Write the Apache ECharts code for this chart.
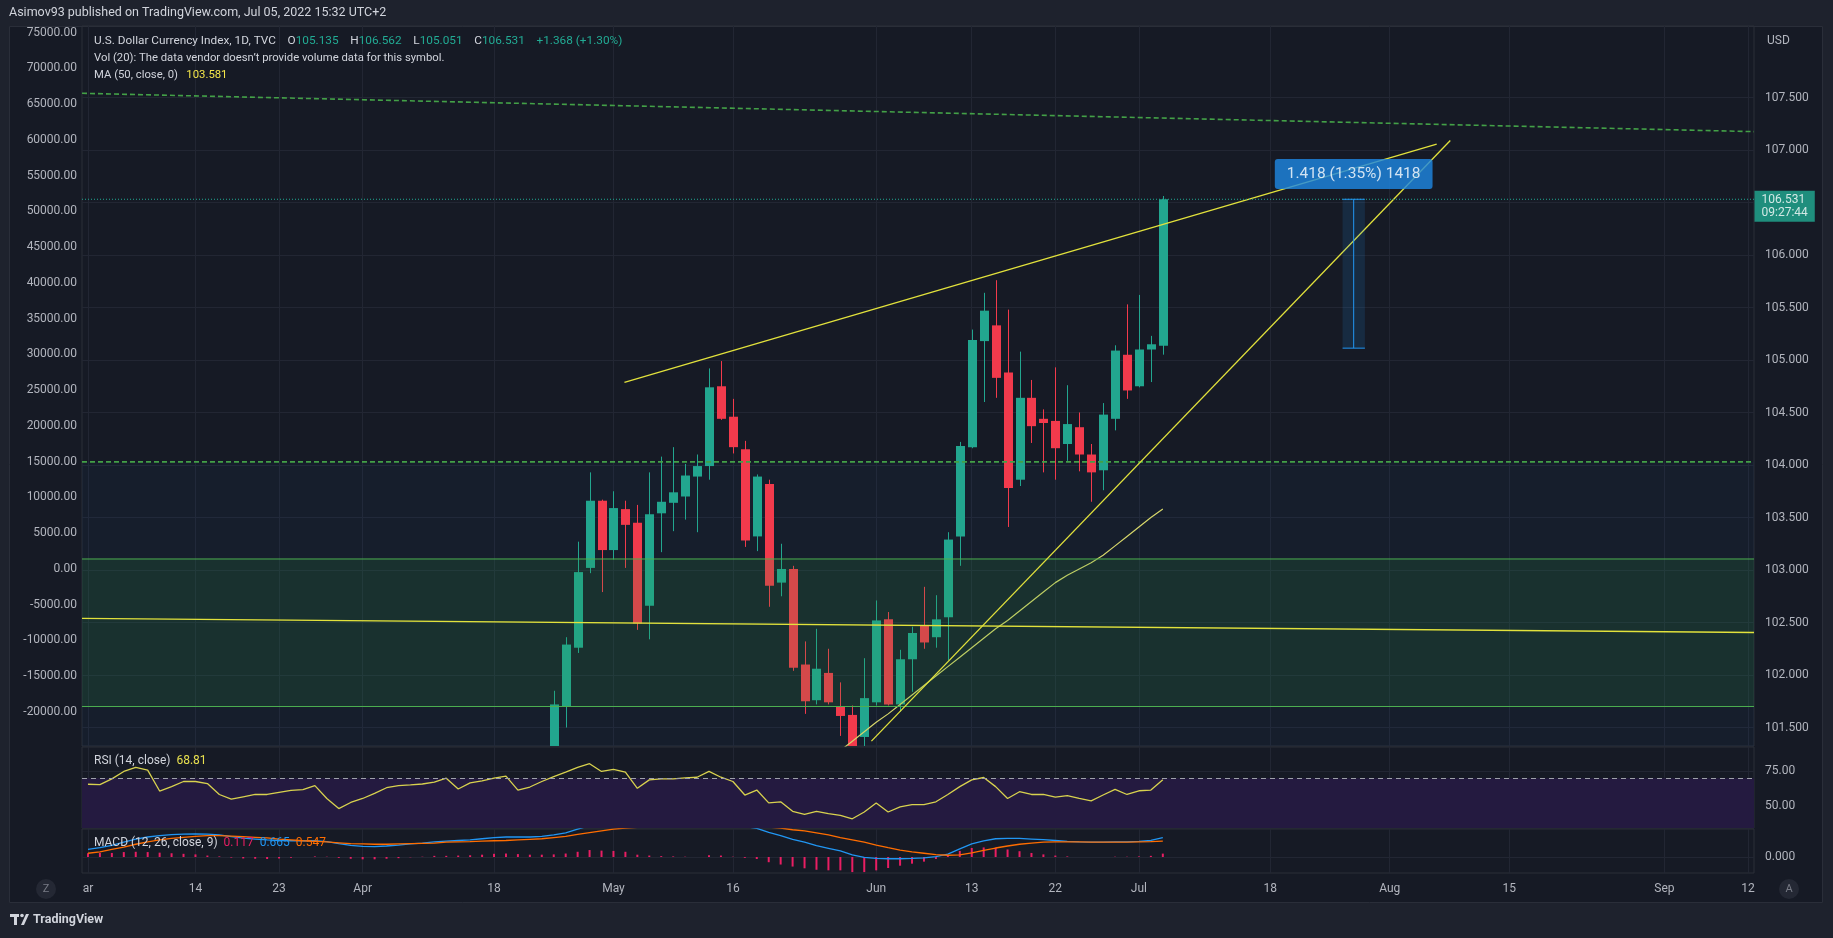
<!DOCTYPE html>
<html>
<head>
<meta charset="utf-8">
<title>U.S. Dollar Currency Index</title>
<script src="https://cdn.jsdelivr.net/npm/echarts@6.0.0/dist/echarts.min.js"></script>
<style>
html,body{margin:0;padding:0;background:#1e222d;overflow:hidden;}
#chart{width:1833px;height:938px;}
</style>
</head>
<body>
<div id="chart"></div>
<script>
// ================= DATA =================
const rangeStart = '2022-03-01';
const rangeEnd = '2022-09-12';

const candleDates = [
  '2022-04-25','2022-04-26','2022-04-27','2022-04-28','2022-04-29',
  '2022-05-02','2022-05-03','2022-05-04','2022-05-05','2022-05-06',
  '2022-05-09','2022-05-10','2022-05-11','2022-05-12','2022-05-13',
  '2022-05-16','2022-05-17','2022-05-18','2022-05-19','2022-05-20',
  '2022-05-23','2022-05-24','2022-05-25','2022-05-26','2022-05-27',
  '2022-05-30','2022-05-31','2022-06-01','2022-06-02','2022-06-03',
  '2022-06-06','2022-06-07','2022-06-08','2022-06-09','2022-06-10',
  '2022-06-13','2022-06-14','2022-06-15','2022-06-16','2022-06-17',
  '2022-06-20','2022-06-21','2022-06-22','2022-06-23','2022-06-24',
  '2022-06-27','2022-06-28','2022-06-29','2022-06-30','2022-07-01',
  '2022-07-04','2022-07-05'
];
// [open, high, low, close]
const candleOHLC = [
  [101.05,101.85,100.98,101.72],[101.70,102.36,101.50,102.29],[102.26,103.27,102.21,102.98],[103.02,103.93,102.97,103.66],[103.66,103.67,102.79,103.19],
  [103.19,103.75,103.10,103.59],[103.58,103.66,103.02,103.43],[103.45,103.62,102.43,102.49],[102.66,103.93,102.34,103.53],[103.54,104.08,103.17,103.65],
  [103.64,104.17,103.37,103.74],[103.70,104.01,103.48,103.90],[103.89,104.10,103.36,103.99],[103.99,104.92,103.86,104.74],[104.75,104.99,104.43,104.44],
  [104.46,104.63,104.11,104.17],[104.15,104.23,103.22,103.28],[103.32,103.91,103.18,103.89],[103.82,103.86,102.65,102.85],[102.88,103.25,102.75,103.01],
  [103.01,103.04,102.04,102.07],[102.10,102.32,101.63,101.75],[101.76,102.44,101.72,102.06],[102.02,102.25,101.72,101.74],[101.70,101.93,101.42,101.61],
  [101.62,101.71,101.22,101.30],[101.41,102.16,101.30,101.78],[101.74,102.71,101.71,102.52],[102.53,102.60,101.71,101.72],[101.72,102.24,101.65,102.15],
  [102.15,102.46,101.84,102.40],[102.47,102.84,102.25,102.31],[102.36,102.76,102.26,102.53],[102.55,103.36,102.14,103.29],[103.32,104.22,103.04,104.18],
  [104.17,105.29,104.16,105.19],[105.18,105.64,104.60,105.47],[105.33,105.76,104.64,104.83],[104.88,105.48,103.41,103.78],[103.86,105.08,103.80,104.64],
  [104.64,104.81,104.21,104.37],[104.44,104.53,103.93,104.40],[104.42,104.93,103.86,104.16],[104.20,104.76,104.04,104.39],[104.36,104.50,103.94,104.10],
  [104.10,104.20,103.65,103.93],[103.95,104.59,103.76,104.48],[104.44,105.14,104.33,105.09],[105.05,105.53,104.63,104.71],[104.75,105.62,104.74,105.10],
  [105.10,105.23,104.79,105.15],[105.135,106.562,105.051,106.531]
];

const indicatorStart = '2022-03-01';
const rsi14 = [
  65.6,65.3,69.5,74.9,77.8,75.9,60.7,63.9,67.6,67.6,
  66.1,58.2,54.8,56.5,58.2,58.2,59.7,61.2,61.7,64.6,
  55.3,48.0,52.4,55.3,59.0,63.1,64.6,65.1,65.8,67.1,
  70.0,62.2,66.6,68.0,70.0,71.5,61.4,63.6,67.6,71.2,
  74.4,77.8,80.5,74.9,76.4,74.4,62.7,68.8,69.5,69.5,
  70.2,70.7,74.9,70.7,67.6,57.8,61.4,52.1,52.9,46.0,
  43.8,46.0,44.3,43.1,40.6,45.5,52.1,45.5,49.2,50.9,
  50.9,52.9,58.2,63.9,68.8,70.5,63.9,55.3,60.2,58.2,
  58.2,56.3,57.3,55.3,53.6,57.8,61.9,58.2,60.9,61.4,
  68.81
];
const macdLine = [
  0.26,0.32,0.40,0.51,0.62,0.69,0.74,0.77,0.79,0.80,
  0.79,0.76,0.70,0.65,0.62,0.59,0.57,0.56,0.56,0.56,
  0.53,0.46,0.40,0.37,0.36,0.38,0.41,0.45,0.48,0.52,
  0.55,0.57,0.59,0.63,0.67,0.69,0.69,0.69,0.71,0.76,
  0.83,0.96,1.08,1.12,1.17,1.18,1.10,1.08,1.07,1.06,
  1.06,1.05,1.12,1.12,1.09,1.05,0.99,0.85,0.74,0.61,
  0.51,0.39,0.30,0.21,0.07,-0.01,-0.05,-0.06,-0.06,-0.05,
  -0.03,0.01,0.10,0.28,0.45,0.56,0.63,0.64,0.64,0.62,
  0.60,0.57,0.54,0.52,0.51,0.51,0.52,0.52,0.54,0.57,
  0.665
];
const macdSignal = [
  0.13,0.18,0.26,0.34,0.44,0.52,0.59,0.64,0.68,0.71,
  0.74,0.74,0.72,0.70,0.68,0.66,0.62,0.59,0.56,0.54,
  0.52,0.49,0.46,0.45,0.44,0.44,0.45,0.46,0.47,0.48,
  0.51,0.52,0.53,0.55,0.56,0.57,0.59,0.61,0.63,0.67,
  0.71,0.78,0.84,0.90,0.96,1.00,1.02,1.03,1.04,1.04,
  1.05,1.05,1.06,1.07,1.08,1.08,1.06,1.03,1.00,0.94,
  0.90,0.83,0.76,0.67,0.59,0.51,0.41,0.32,0.24,0.18,
  0.13,0.08,0.06,0.07,0.14,0.23,0.31,0.38,0.44,0.48,
  0.51,0.52,0.52,0.52,0.51,0.51,0.51,0.51,0.52,0.53,
  0.547
];
const macdHist = [
  0.13,0.14,0.14,0.17,0.18,0.17,0.15,0.13,0.11,0.09,
  0.05,0.02,-0.02,-0.05,-0.06,-0.07,-0.05,-0.03,0.00,0.02,
  0.01,-0.03,-0.06,-0.08,-0.08,-0.06,-0.04,-0.01,0.01,0.04,
  0.04,0.05,0.06,0.08,0.11,0.12,0.10,0.08,0.08,0.09,
  0.12,0.18,0.24,0.22,0.21,0.18,0.08,0.05,0.03,0.02,
  0.01,0.00,0.06,0.05,0.01,-0.03,-0.07,-0.18,-0.26,-0.33,
  -0.39,-0.44,-0.46,-0.46,-0.52,-0.52,-0.46,-0.38,-0.30,-0.23,
  -0.16,-0.07,0.04,0.21,0.31,0.33,0.32,0.26,0.20,0.14,
  0.09,0.05,0.02,0.00,0.00,0.00,0.01,0.01,0.02,0.04,
  0.117
];
const maStart = '2022-05-27';
const ma50 = [
  101.28,101.37,101.46,101.55,101.63,101.72,101.81,101.90,101.99,102.08,
  102.17,102.26,102.35,102.44,102.52,102.61,102.70,102.79,102.88,102.95,
  103.01,103.07,103.14,103.23,103.32,103.41,103.50,103.581
];

const timeTickDates = ['2022-03-01','2022-03-14','2022-03-23','2022-04-01','2022-04-18','2022-05-02','2022-05-16','2022-06-01',
  '2022-06-13','2022-06-22','2022-07-01','2022-07-18','2022-08-01','2022-08-15','2022-09-01','2022-09-12'];
const timeTickLabels = ['ar','14','23','Apr','18','May','16','Jun','13','22','Jul','18','Aug','15','Sep','12'];
const priceTicks = [101.5,102,102.5,103,103.5,104,104.5,105,105.5,106,106.5,107,107.5];
const priceLabelTicks = [101.5,102,102.5,103,103.5,104,104.5,105,105.5,106,107,107.5];
const leftTicks = [-20000,-15000,-10000,-5000,0,5000,10000,15000,20000,25000,30000,35000,40000,45000,50000,55000,60000,65000,70000,75000];
const rsiTicks = [50, 75];
const macdTicks = [0];

// drawings in [bar index, price]
const resistanceLine = [[44.92, 104.788], [112.93, 107.055]];
const supportLine = [[65.6, 101.37], [114.07, 107.09]];
const flatLine = [[-0.5, 102.54], [139.5, 102.405]];
const upperDashedLine = [[-0.5, 107.54], [139.5, 107.175]];
const levelDashed = 104.03;
const demandZone = [101.70, 103.105];
const lowerZoneTop = 104.03;
const lastPrice = 106.531;
const lastPriceTimer = '09:27:44';
const rangeBox = {from: 105.05, to: 106.92, low: 105.113, high: 106.531};
const rangeLabel = {x: 105.98, y: 106.772, text: '1.418 (1.35%) 1418'};
const rsiUpper = 70;

// ================= AXIS EXTENTS =================
const PRICE_MIN = 101.324, PRICE_MAX = 108.181;
const LEFT_MIN = -24776, LEFT_MAX = 75937;
const RSI_MIN = 33.91, RSI_MAX = 92.61;
const MACD_MIN = -0.552, MACD_MAX = 0.966;

// ================= HELPERS =================
function weekdays(a, b) {
  const out = [];
  let d = new Date(a + 'T00:00:00Z');
  const e = new Date(b + 'T00:00:00Z');
  while (d <= e) {
    const w = d.getUTCDay();
    if (w !== 0 && w !== 6) out.push(d.toISOString().slice(0, 10));
    d = new Date(d.getTime() + 86400000);
  }
  return out;
}
const cats = weekdays(rangeStart, rangeEnd);
const X_MIN = -0.5, X_MAX = cats.length - 0.5;
const tickIdx = timeTickDates.map(d => cats.indexOf(d));
const fromStart = (start, arr) => { const s = cats.indexOf(start); return arr.map((v, k) => [cats[s + k], v]); };
const candleData = candleDates.map((d, k) => { const [o, h, l, c] = candleOHLC[k]; return [d, o, c, l, h]; });

const FONT = 'Roboto, "Noto Sans", sans-serif';
const C = {
  frame: '#161a25', outer: '#1e222d', grid: '#222633', border: '#2a2e39', text: '#b2b5be',
  up: '#22a68f', down: '#f23a4c', yellow: '#e2e23c', green: '#43a047', teal: '#22ab94', blue: '#2196f3'
};

// ================= AXES =================
const GRIDS = [
  {left: 82, right: 79, top: 26, height: 720},
  {left: 82, right: 79, top: 747, height: 81},
  {left: 82, right: 79, top: 829, height: 44}
].map(g => Object.assign(g, {show: true, borderColor: C.border, borderWidth: 1, backgroundColor: 'transparent', containLabel: false, outerBoundsMode: 'none'}));

function catAxis(g) {
  return {type: 'category', gridIndex: g, data: cats, boundaryGap: true, show: false, position: 'top'};
}
function timeAxis(g, withLabels) {
  return {
    type: 'value', gridIndex: g, min: X_MIN, max: X_MAX, position: 'bottom',
    axisLine: {show: false, onZero: false},
    axisTick: {show: false, customValues: tickIdx},
    axisLabel: withLabels ? {
      show: true, customValues: tickIdx, margin: 10, color: C.text, fontSize: 12, fontFamily: FONT,
      formatter: v => { const k = tickIdx.indexOf(Math.round(v)); return k < 0 ? '' : timeTickLabels[k]; }
    } : {show: false},
    splitLine: {show: true, lineStyle: {color: C.grid, width: 1}}
  };
}
function valAxis(g, pos, min, max, ticks, labelTicks, digits, margin, grid) {
  return {
    type: 'value', gridIndex: g, position: pos, min, max, scale: true,
    axisLine: {show: false, onZero: false},
    axisTick: {show: false, customValues: ticks},
    axisLabel: {show: true, customValues: labelTicks, margin, color: C.text, fontSize: 12, fontFamily: FONT,
      formatter: v => Number(v).toFixed(digits)},
    splitLine: {show: grid, lineStyle: {color: C.grid, width: 1}}
  };
}

// ================= SERIES =================
function seg(data, lineStyle, z, extra) {
  return Object.assign({
    type: 'line', xAxisIndex: 1, yAxisIndex: 0, data, symbol: 'none', silent: true,
    z, lineStyle, clip: true
  }, extra || {});
}

// candles drawn through the axes, clipped to the price pane
function renderCandle(params, api) {
  const x = api.value(0);
  const o = api.value(1), c = api.value(2), l = api.value(3), h = api.value(4);
  const pO = api.coord([x, o]), pC = api.coord([x, c]);
  const pH = api.coord([x, h]), pL = api.coord([x, l]);
  const bw = api.size([1, 0])[0] * 0.76;
  const color = c >= o ? C.up : C.down;
  const top = Math.min(pO[1], pC[1]), bot = Math.max(pO[1], pC[1]);
  const cx = Math.round(pO[0]) + 0.5;
  return {
    type: 'group',
    children: [
      {type: 'line', shape: {x1: cx, y1: pH[1], x2: cx, y2: pL[1]}, style: {stroke: color, lineWidth: 1}},
      {type: 'rect', shape: {x: Math.round(cx - bw / 2), y: top, width: Math.round(bw), height: Math.max(bot - top, 1)},
        style: {fill: color}}
    ]
  };
}

const series = [
  // lower (blue-grey) zone behind the candles
  seg([[X_MIN, lowerZoneTop], [X_MAX, lowerZoneTop]], {width: 0, opacity: 0}, 1,
      {areaStyle: {color: 'rgba(33,150,243,0.05)', origin: PRICE_MIN}}),
  // candles
  {
    type: 'custom', xAxisIndex: 0, yAxisIndex: 0, data: candleData, renderItem: renderCandle,
    encode: {x: 0, y: [1, 2, 3, 4]}, silent: true, z: 3, clip: true
  },
  // MA 50
  {type: 'line', xAxisIndex: 0, yAxisIndex: 0, data: fromStart(maStart, ma50), symbol: 'none', silent: true,
   z: 4, lineStyle: {color: '#d6d66a', width: 1.2}},
  // green demand zone on top of candles
  seg([[X_MIN, demandZone[1]], [X_MAX, demandZone[1]]], {color: '#4caf50', width: 1}, 5,
      {areaStyle: {color: 'rgba(46,160,67,0.22)', origin: demandZone[0]}}),
  seg([[X_MIN, demandZone[0]], [X_MAX, demandZone[0]]], {color: '#4caf50', width: 1}, 5),
  // dashed green levels
  seg([[X_MIN, levelDashed], [X_MAX, levelDashed]], {color: C.green, width: 1.6, type: [5, 3]}, 6),
  seg(upperDashedLine, {color: C.green, width: 1.6, type: [5, 3]}, 6),
  // yellow trend lines
  seg(flatLine, {color: C.yellow, width: 1.3}, 6),
  seg(resistanceLine, {color: C.yellow, width: 1.3}, 6),
  seg(supportLine, {color: C.yellow, width: 1.3}, 6),
  // last price dotted line
  seg([[X_MIN, lastPrice], [X_MAX, lastPrice]], {color: C.teal, width: 1, type: [1, 2]}, 6),
  // price range measurement
  seg([[rangeBox.from, rangeBox.high], [rangeBox.to, rangeBox.high]], {color: C.blue, width: 1}, 7,
      {areaStyle: {color: 'rgba(33,150,243,0.2)', origin: rangeBox.low}}),
  seg([[rangeBox.from, rangeBox.low], [rangeBox.to, rangeBox.low]], {color: C.blue, width: 1}, 7),
  seg([[rangeLabel.x, rangeBox.low], [rangeLabel.x, rangeBox.high]], {color: C.blue, width: 1}, 7),
  {
    type: 'scatter', xAxisIndex: 1, yAxisIndex: 0, data: [[rangeLabel.x, rangeLabel.y]], symbolSize: 1,
    itemStyle: {color: 'rgba(0,0,0,0)'}, silent: true, clip: false, z: 9,
    label: {show: true, position: 'inside', formatter: rangeLabel.text, backgroundColor: '#1e88e5', color: '#ffffff',
      fontSize: 15.5, lineHeight: 17, fontFamily: FONT, padding: [7, 12, 6, 12], borderRadius: 3}
  },
  // last price label on the axis
  {
    type: 'scatter', xAxisIndex: 1, yAxisIndex: 0, data: [[X_MAX, lastPrice]], symbolSize: 1,
    itemStyle: {color: 'rgba(0,0,0,0)'}, silent: true, clip: false, z: 9,
    label: {show: true, position: 'right', distance: 0, offset: [0, 7],
      formatter: lastPrice.toFixed(3) + '\n' + lastPriceTimer, backgroundColor: C.teal, color: '#ffffff',
      fontSize: 12, lineHeight: 13, fontFamily: FONT, padding: [3, 7, 2, 7]}
  },
  // RSI
  {
    type: 'line', xAxisIndex: 2, yAxisIndex: 2, data: fromStart(indicatorStart, rsi14), symbol: 'none', silent: true,
    z: 3, lineStyle: {color: '#d8d24e', width: 1.3},
    markArea: {silent: true, itemStyle: {color: '#241a40'}, data: [[{yAxis: rsiUpper}, {yAxis: RSI_MIN}]]},
    markLine: {silent: true, symbol: 'none', label: {show: false}, animation: false,
      lineStyle: {color: '#9ea1aa', type: [5, 4], width: 1}, data: [{yAxis: rsiUpper}]}
  },
  // MACD
  {type: 'bar', xAxisIndex: 4, yAxisIndex: 3, data: fromStart(indicatorStart, macdHist), barWidth: 2, silent: true,
   itemStyle: {color: '#e91e63'}, z: 2},
  {type: 'line', xAxisIndex: 4, yAxisIndex: 3, data: fromStart(indicatorStart, macdLine), symbol: 'none', silent: true,
   z: 3, lineStyle: {color: '#2196f3', width: 1.3}},
  {type: 'line', xAxisIndex: 4, yAxisIndex: 3, data: fromStart(indicatorStart, macdSignal), symbol: 'none', silent: true,
   z: 3, lineStyle: {color: '#ff6d00', width: 1.3}}
];

// ================= TEXT / FRAME =================
const HF = 11.3; // legend font size
const H1 = 11.8; // first legend line
const txt = (x, y, style) => ({type: 'text', x, y, silent: true, z: 10,
  style: Object.assign({fill: C.text, fontSize: 12, fontFamily: FONT, verticalAlign: 'middle'}, style)});
const mk = (col, size) => ({fill: col, color: col, fontSize: size, fontFamily: FONT});
const richHead = {t: mk('#d1d4dc', HF), v: mk('#22ab94', HF), y: mk('#f4e64a', HF)};
const richHead1 = {t: mk('#d1d4dc', H1), v: mk('#22ab94', H1)};
const richInd = {t: mk('#d1d4dc', 12), p: mk('#e91e63', 12), b: mk('#2196f3', 12), o: mk('#ff6d00', 12), r: mk('#e8e04f', 12)};

const graphic = [
  {type: 'rect', silent: true, z: -5, shape: {x: 0, y: 0, width: 1833, height: 26}, style: {fill: C.outer}},
  {type: 'rect', silent: true, z: -5, shape: {x: 0, y: 903, width: 1833, height: 35}, style: {fill: C.outer}},
  {type: 'rect', silent: true, z: -5, shape: {x: 0, y: 0, width: 9, height: 938}, style: {fill: C.outer}},
  {type: 'rect', silent: true, z: -5, shape: {x: 1823, y: 0, width: 10, height: 938}, style: {fill: C.outer}},
  {type: 'rect', silent: true, z: -4, shape: {x: 9.5, y: 26.5, width: 1813, height: 876}, style: {fill: 'none', stroke: C.border, lineWidth: 1}},
  txt(9, 13, {text: 'Asimov93 published on TradingView.com, Jul 05, 2022 15:32 UTC+2', fill: '#d1d4dc', fontSize: 12.5}),
  txt(94, 41, {text: '{t|U.S. Dollar Currency Index, 1D, TVC}    {t|O}{v|105.135}    {t|H}{v|106.562}    {t|L}{v|105.051}    {t|C}{v|106.531}    {v|+1.368 (+1.30%)}', rich: richHead1, fontSize: H1}),
  txt(94, 58, {text: 'Vol (20): The data vendor doesn\u2019t provide volume data for this symbol.', fill: '#d1d4dc', fontSize: HF}),
  txt(94, 75, {text: '{t|MA (50, close, 0)}   {y|103.581}', rich: richHead, fontSize: HF}),
  txt(1767, 41, {text: 'USD', fill: C.text}),
  txt(94, 761, {text: '{t|RSI (14, close)}  {r|68.81}', rich: richInd}),
  txt(94, 843, {text: '{t|MACD (12, 26, close, 9)}  {p|0.117}  {b|0.665}  {o|0.547}', rich: richInd}),
  {type: 'circle', silent: true, z: 10, shape: {cx: 46, cy: 889, r: 10}, style: {fill: '#242834'}},
  txt(46, 889, {text: 'Z', fill: '#787b86', align: 'center', fontSize: 11}),
  {type: 'circle', silent: true, z: 10, shape: {cx: 1789, cy: 889, r: 10}, style: {fill: '#242834'}},
  txt(1789, 889, {text: 'A', fill: '#787b86', align: 'center', fontSize: 11}),
  // TradingView logo
  {type: 'rect', silent: true, z: 10, shape: {x: 10, y: 914, width: 9, height: 3}, style: {fill: '#d1d4dc'}},
  {type: 'rect', silent: true, z: 10, shape: {x: 14, y: 914, width: 3, height: 11}, style: {fill: '#d1d4dc'}},
  {type: 'circle', silent: true, z: 10, shape: {cx: 22, cy: 915.5, r: 1.8}, style: {fill: '#d1d4dc'}},
  {type: 'polygon', silent: true, z: 10, shape: {points: [[21, 925], [26, 914], [29, 914], [24, 925]]}, style: {fill: '#d1d4dc'}},
  txt(33, 920, {text: 'TradingView', fill: '#d1d4dc', fontSize: 12.5, fontWeight: 'bold'})
];

// ================= CHART =================
const chart = echarts.init(document.getElementById('chart'), null, {renderer: 'canvas', width: 1833, height: 938});
chart.setOption({
  animation: false,
  backgroundColor: C.frame,
  textStyle: {fontFamily: FONT},
  grid: GRIDS,
  xAxis: [catAxis(0), timeAxis(0, false), catAxis(1), timeAxis(1, false), catAxis(2), timeAxis(2, true)],
  yAxis: [
    valAxis(0, 'right', PRICE_MIN, PRICE_MAX, priceTicks, priceLabelTicks, 3, 11, true),
    valAxis(0, 'left', LEFT_MIN, LEFT_MAX, leftTicks, leftTicks, 2, 5, false),
    valAxis(1, 'right', RSI_MIN, RSI_MAX, rsiTicks, rsiTicks, 2, 11, true),
    valAxis(2, 'right', MACD_MIN, MACD_MAX, macdTicks, macdTicks, 3, 11, true)
  ],
  graphic,
  series
});
</script>
</body>
</html>
